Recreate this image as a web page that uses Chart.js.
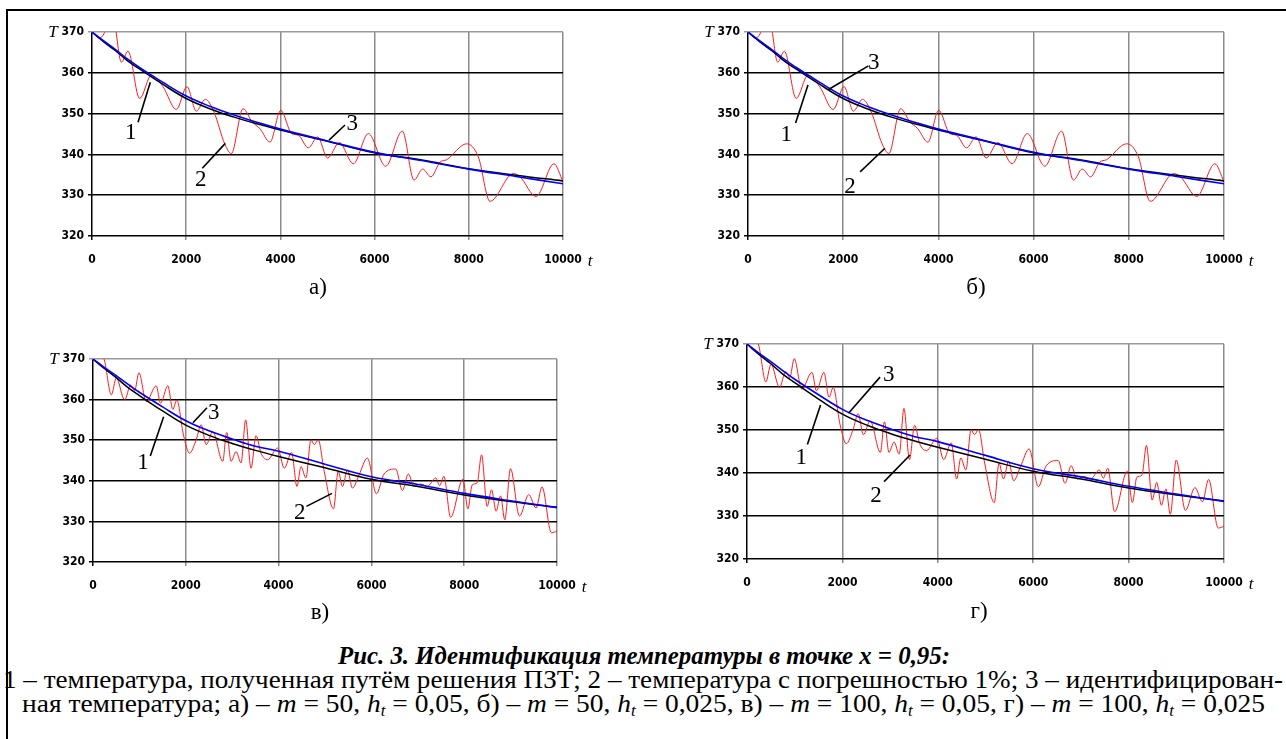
<!DOCTYPE html>
<html>
<head>
<meta charset="utf-8">
<script src="https://cdn.jsdelivr.net/npm/chart.js@4/dist/chart.umd.min.js"></script>
<style>
body { margin: 0; background: #fff; width: 1286px; height: 739px; position: relative; overflow: hidden;
       font-family: 'Liberation Serif', 'Times New Roman', serif; color: #000; }
#frame { position: absolute; left: 6px; top: 9px; width: 1300px; height: 760px;
         border-left: 2px solid #000; border-top: 2px solid #000; }
canvas { position: absolute; }
.sub { position: absolute; font-size: 23px; transform: translate(-50%, -50%); }
.cap { position: absolute; white-space: nowrap; transform-origin: 0 50%; font-size: 26px; line-height: 26px;
       font-family: 'Liberation Serif', 'Times New Roman', serif; }
.cap i { font-style: italic; }
.cap sub { font-size: 16px; vertical-align: -4px; line-height: 0; }
</style>
</head>
<body>
<div id="frame"></div>
<canvas id="chartA"></canvas>
<canvas id="chartB"></canvas>
<canvas id="chartC"></canvas>
<canvas id="chartD"></canvas>
<div class="sub" style="left:318px;top:287px">а)</div>
<div class="sub" style="left:976px;top:287px">б)</div>
<div class="sub" style="left:320px;top:612px">в)</div>
<div class="sub" style="left:979px;top:611px">г)</div>
<div class="cap" id="cap1" data-l="338" data-w="612" data-y="656" style="font-size:25px"><b><i>Рис. 3. Идентификация температуры в точке x = 0,95:</i></b></div>
<div class="cap" id="cap2" data-l="3" data-w="1280" data-y="680">1 – температура, полученная путём решения ПЗТ; 2 – температура с погрешностью 1%; 3 – идентифицирован-</div>
<div class="cap" id="cap3" data-l="22" data-w="1243" data-y="704">ная температура; а) – <i>m</i> = 50, <i>h<sub>t</sub></i> = 0,05, б) – <i>m</i> = 50, <i>h<sub>t</sub></i> = 0,025, в) – <i>m</i> = 100, <i>h<sub>t</sub></i> = 0,05, г) – <i>m</i> = 100, <i>h<sub>t</sub></i> = 0,025</div>
<script>
// time grid of the smooth curves
var tSmooth = [0, 250, 500, 750, 1000, 1500, 2000, 2500, 3000, 3500, 4000, 5000, 6000, 7000, 8000, 9000, 10000];
// 1 - exact solution
var tempExact = [370, 367.6, 365.4, 363.0, 361.0, 357.2, 353.7, 351.2, 349.2, 347.5, 346.0, 343.2, 340.4, 338.6, 336.5, 334.9, 333.5];
// 3 - identified, m = 50 (а, б)
var tempIdent50 = [370, 367.8, 365.7, 363.4, 361.4, 357.7, 354.3, 351.8, 349.7, 347.9, 346.2, 343.3, 340.5, 338.5, 336.4, 334.6, 332.8];
// 3 - identified, m = 100 (в, г)
var tempIdent100 = [370, 367.9, 365.9, 363.8, 361.8, 358.2, 354.8, 352.3, 350.3, 348.5, 347.3, 344.1, 341.0, 339.1, 336.9, 335.1, 333.4];

// 2 - with 1% error, m = 50
var tNoisy50 = [0, 163, 450, 623, 764, 1012, 1260, 1507, 1790, 2017, 2214, 2406, 2590, 2817, 2958, 3206, 3400, 3567, 3779,
  4006, 4239, 4380, 4593, 4791, 5003, 5251, 5548, 5867, 6235, 6589, 6837, 7020, 7197, 7389, 7530, 7955, 8202, 8450,
  8945, 9087, 9427, 9809, 10000];
var tempNoisy50 = [370, 368.5, 373, 362.6, 365.3, 353.7, 359.4, 356.6, 351.0, 356.6, 350.6, 353.5, 350.4, 342.6, 340.2, 351.2, 348.0, 346.3, 343.0,
  350.8, 345.1, 344.7, 341.6, 344.3, 339.1, 342.9, 337.7, 345.1, 337.1, 345.7, 333.7, 336.4, 334.5, 338.1, 338.7, 342.6, 339.4, 328.5,
  335.3, 334.5, 329.7, 337.7, 333.3];

// 2 - with 1% error, m = 100
var tNoisy100 = [0, 130, 250, 395, 503, 682, 811, 897, 990, 1148, 1363, 1456, 1613, 1720, 1806, 1950, 2080, 2224, 2331, 2439, 2581,
  2796, 2882, 2976, 3084, 3191, 3290, 3406, 3514, 3621, 3764, 3978, 4123, 4280, 4396, 4482, 4589, 4697, 4768, 4854, 4983,
  5183, 5284, 5377, 5484, 5591, 5735, 5914, 6108, 6273, 6525, 6667, 6796, 6918, 7062, 7204, 7385, 7471, 7563, 7707, 7972,
  8080, 8172, 8280, 8374, 8495, 8589, 8688, 8783, 8875, 8998, 9191, 9391, 9548, 9677, 9879, 10000];
var tempNoisy100 = [370, 373, 369.5, 361.2, 365.3, 359.9, 363.6, 362.2, 366.6, 359.5, 363.4, 359.1, 363.4, 357.6, 359.9, 351.3, 346.8, 350.1, 353.8, 348.9, 352.1,
  344.8, 351.9, 344.8, 347.2, 344.4, 355.0, 343.1, 351.1, 346.8, 345.2, 348.1, 343.1, 347.0, 338.6, 343.5, 340.7, 350.1, 348.9, 350.1, 342.3,
  333.1, 342.3, 338.6, 342.7, 338.2, 341.5, 345.6, 336.8, 341.7, 342.9, 337.6, 341.7, 338.6, 339.2, 338.6, 340.7, 338.8, 341.1, 331.0, 340.4,
  333.1, 339.0, 339.5, 346.4, 333.7, 337.8, 332.5, 336.3, 330.4, 343.0, 331.3, 336.6, 333.3, 338.5, 327.2, 327.6];

var xTicks = [0, 2000, 4000, 6000, 8000, 10000];
var yTicks = [320, 330, 340, 350, 360, 370];

function pts(xs, ys) {
    return xs.map(function(x, i) { return {x: x, y: ys[i]}; });
}

var extras = {
    id: 'extras',
    afterDraw: function(chart, args, opts) {
        var ctx = chart.ctx, a = chart.chartArea, xs = chart.scales.x, ys = chart.scales.y;
        ctx.save();
        ctx.fillStyle = '#000';
        ctx.textAlign = 'center';
        ctx.textBaseline = 'middle';
        ctx.font = 'italic 17px "Liberation Serif"';
        ctx.fillText('T', a.left - 39, a.top + 1);
        ctx.fillText('t', a.right + 27, a.bottom + 26);
        ctx.font = '23px "Liberation Serif"';
        ctx.strokeStyle = '#000';
        ctx.lineWidth = 1.6;
        opts.notes.forEach(function(n) {
            ctx.beginPath();
            ctx.moveTo(xs.getPixelForValue(n.line[0]), ys.getPixelForValue(n.line[1]));
            ctx.lineTo(xs.getPixelForValue(n.line[2]), ys.getPixelForValue(n.line[3]));
            ctx.stroke();
            ctx.fillText(n.text, xs.getPixelForValue(n.x), ys.getPixelForValue(n.y));
        });
        ctx.restore();
    }
};

var tickFont = {family: "'Liberation Sans Narrow', 'DejaVu Sans Condensed', sans-serif", size: 12, weight: 'bold'};

function makeChart(id, rect, area, ident, tNoisy, tempNoisy, notes) {
    var cv = document.getElementById(id);
    cv.width = rect.w;
    cv.height = rect.h;
    cv.style.left = rect.left + 'px';
    cv.style.top = rect.top + 'px';
    var yW = area.left - rect.left;
    var xH = rect.top + rect.h - area.bottom;
    return new Chart(cv.getContext('2d'), {
        type: 'line',
        data: {
            datasets: [
                {data: pts(tSmooth, ident), borderColor: '#0000ff', borderWidth: 1.6, pointRadius: 0, tension: 0.4, order: 0},
                {data: pts(tSmooth, tempExact), borderColor: '#000', borderWidth: 1.5, pointRadius: 0, tension: 0.4, order: 1},
                {data: pts(tNoisy, tempNoisy), borderColor: '#ff1a1a', borderWidth: 1, pointRadius: 0,
                 cubicInterpolationMode: 'monotone', order: 2}
            ]
        },
        options: {
            responsive: false,
            animation: false,
            events: [],
            layout: {padding: {top: area.top - rect.top, right: rect.left + rect.w - area.right, left: 0, bottom: 0}},
            plugins: {legend: {display: false}, tooltip: {enabled: false}, extras: {notes: notes}},
            scales: {
                x: {
                    type: 'linear', min: 0, max: 10000,
                    afterBuildTicks: function(s) { s.ticks = xTicks.map(function(v) { return {value: v}; }); },
                    afterFit: function(s) { s.height = xH; },
                    grid: {color: function(c) { return c.tick.value === 0 ? '#000' : '#8c8c8c'; }, lineWidth: 1.5, tickLength: 4},
                    border: {display: false},
                    ticks: {font: tickFont, color: '#000', padding: 13, maxRotation: 0,
                            callback: function(v) { return String(v); }}
                },
                y: {
                    type: 'linear', min: 320, max: 370,
                    afterBuildTicks: function(s) { s.ticks = yTicks.map(function(v) { return {value: v}; }); },
                    afterFit: function(s) { s.width = yW; },
                    grid: {color: function(c) { return c.tick.value === 370 ? '#9a9a9a' : '#000'; }, lineWidth: 1.5, tickLength: 4},
                    border: {display: false},
                    ticks: {font: tickFont, color: '#000', padding: 4,
                            callback: function(v) { return String(v); }}
                }
            }
        },
        plugins: [extras]
    });
}

makeChart('chartA', {left: 30, top: 18, w: 580, h: 262}, {left: 92, top: 32, right: 563, bottom: 236},
    tempIdent50, tNoisy50, tempNoisy50, [
        {text: '1', x: 822, y: 345.2, line: [977, 347.9, 1238, 357.7]},
        {text: '2', x: 2308, y: 333.7, line: [2342, 336.6, 2830, 342.7]},
        {text: '3', x: 5527, y: 347.4, line: [5032, 343.5, 5372, 347.2]}
    ]);
makeChart('chartB', {left: 680, top: 18, w: 590, h: 262}, {left: 748, top: 32, right: 1224, bottom: 236},
    tempIdent50, tNoisy50, tempNoisy50, [
        {text: '1', x: 805, y: 344.7, line: [1000, 347.7, 1260, 357]},
        {text: '2', x: 2141, y: 332, line: [2356, 335.7, 2876, 341.5]},
        {text: '3', x: 2642, y: 362.3, line: [2530, 361.7, 1692, 355.9]}
    ]);
makeChart('chartC', {left: 30, top: 345, w: 580, h: 262}, {left: 93, top: 359, right: 557, bottom: 562},
    tempIdent100, tNoisy100, tempNoisy100, [
        {text: '1', x: 1076, y: 344.3, line: [1235, 346.1, 1522, 355.8]},
        {text: '3', x: 2600, y: 356.6, line: [2154, 354.3, 2456, 358]},
        {text: '2', x: 4455, y: 332.2, line: [4599, 333.7, 5151, 336.9]}
    ]);
makeChart('chartD', {left: 680, top: 330, w: 590, h: 262}, {left: 747, top: 344, right: 1224, bottom: 559},
    tempIdent100, tNoisy100, tempNoisy100, [
        {text: '1', x: 1136, y: 343.5, line: [1266, 346.6, 1542, 355.8]},
        {text: '3', x: 2970, y: 362.8, line: [2789, 362.3, 2127, 353.9]},
        {text: '2', x: 2703, y: 334.7, line: [2874, 338, 3418, 344.2]}
    ]);

// fit caption lines to their widths
['cap1', 'cap2', 'cap3'].forEach(function(id) {
    var el = document.getElementById(id);
    var w = el.getBoundingClientRect().width;
    var target = +el.dataset.w;
    el.style.left = el.dataset.l + 'px';
    el.style.top = (+el.dataset.y - 13) + 'px';
    el.style.transform = 'scaleX(' + (target / w) + ')';
});
</script>
</body>
</html>
